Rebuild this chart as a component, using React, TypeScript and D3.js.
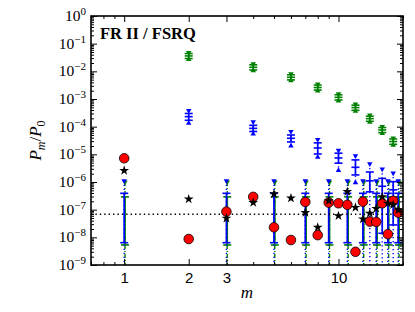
import React, { useEffect, useRef } from 'react'
import * as d3 from 'd3'

// harmonic number m
const mAll = [1, 2, 3, 4, 5, 6, 7, 8, 9, 10, 11, 12, 13, 14, 15, 16, 17, 18, 19]
const mEven = [2, 4, 6, 8, 10, 12, 14, 16, 18]
const mOdd = [1, 3, 5, 7, 9, 11, 13, 15, 17, 19]

// red circles and black stars (one per m)
const redVals = [7.2e-6, 8.7e-9, 8.5e-8, 2.9e-7, 2.3e-8, 8e-9, 1.9e-7, 1.2e-8, 1.8e-7, 1.7e-7,
  1.5e-7, 3e-9, 1.95e-7, 3.7e-8, 3.6e-8, 1.7e-7, 1.3e-8, 2.1e-7, 7.8e-8]
const starVals = [2.6e-6, 2.4e-7, 4.9e-8, 1.8e-7, 3.7e-7, 2.6e-7, 7.8e-8, 2.3e-8, 2.1e-7, 6e-8,
  4.5e-7, 1.2e-7, 4.6e-8, 7.4e-8, 1.1e-7, 2.9e-7, 1.7e-7, 1.5e-7, 9.8e-8]

// green points at even m
const greenVals = [3.6e-2, 1.4e-2, 6.1e-3, 2.6e-3, 1.15e-3, 4.9e-4, 1.95e-4, 7.6e-5, 2.9e-5]
const greenLo1 = [2.9e-2, 1.12e-2, 4.9e-3, 2.1e-3, 9.2e-4, 3.9e-4, 1.56e-4, 6.1e-5, 2.3e-5]
const greenHi1 = [4.4e-2, 1.72e-2, 7.5e-3, 3.2e-3, 1.42e-3, 6.0e-4, 2.4e-4, 9.3e-5, 3.6e-5]
const greenLo2 = [2.7e-2, 1.05e-2, 4.6e-3, 1.95e-3, 8.6e-4, 3.65e-4, 1.46e-4, 5.7e-5, 2.15e-5]
const greenHi2 = [4.8e-2, 1.86e-2, 8.1e-3, 3.45e-3, 1.53e-3, 6.5e-4, 2.6e-4, 1.0e-4, 3.9e-5]

// blue points at even m
const blueVals = [2.3e-4, 8.7e-5, 3.8e-5, 1.7e-5, 7.4e-6, 3.4e-6, 1.1e-6, 7e-7, 5.2e-7]
const blueLo1 = [1.7e-4, 6.7e-5, 2.8e-5, 1.03e-5, 4.8e-6, 1.8e-6, 4.4e-7, 1.4e-8, 2.8e-8]
const blueHi1 = [3.0e-4, 1.12e-4, 5.0e-5, 2.6e-5, 1.1e-5, 6.3e-6, 2.3e-6, 1.35e-6, 1.03e-6]
const blueLo2 = [1.35e-4, 5.5e-5, 2.0e-5, 7.9e-6, 2.6e-6, 9.5e-7, 0, 0, 0]
const blueHi2 = [3.8e-4, 1.48e-4, 6.6e-5, 3.4e-5, 1.4e-5, 8.8e-6, 4.5e-6, 2.9e-6, 2.1e-6]

// noise ranges at odd m
const noiseGreenLo1 = [5.3e-9, 5.3e-9, 5.3e-9, 5.3e-9, 5.3e-9, 5.3e-9, 5.3e-9, 5.3e-9, 5.3e-9, 5.3e-9]
const noiseGreenHi1 = [2.9e-7, 2.9e-7, 2.9e-7, 2.9e-7, 2.9e-7, 2.9e-7, 2.9e-7, 2.9e-7, 2.9e-7, 2.9e-7]
const noiseGreenHi2 = [1.0e-6, 1.0e-6, 1.0e-6, 1.0e-6, 1.0e-6, 1.0e-6, 1.0e-6, 1.0e-6, 1.0e-6, 1.0e-6]
const noiseBlueLo1 = [6.4e-9, 6.4e-9, 6.4e-9, 6.4e-9, 6.4e-9, 6.4e-9, 6.4e-9, 6.4e-9, 6.4e-9, 6.4e-9]
const noiseBlueHi1 = [3.9e-7, 3.9e-7, 3.9e-7, 3.9e-7, 3.9e-7, 3.9e-7, 3.9e-7, 3.9e-7, 3.9e-7, 3.9e-7]
const noiseBlueHi2 = [1.1e-6, 1.1e-6, 1.1e-6, 1.1e-6, 1.1e-6, 1.1e-6, 1.1e-6, 1.1e-6, 1.1e-6, 1.1e-6]

const refLevel = 6.8e-8

const xTickLabels = [1, 2, 3, 10]
const xMinor = [0.7, 0.8, 0.9, 4, 5, 6, 7, 8, 9, 20]
const yExponents = [0, -1, -2, -3, -4, -5, -6, -7, -8, -9]

const W = 415
const H = 312
const left = 91
const right = 403
const top = 16
const bottom = 265

const GREEN = '#008000'
const BLUE = '#0000ff'

// one set of error bars: dotted outer range with triangles, solid inner range with caps
function drawBars(g, y, xpos, vals, lo1, hi1, lo2, hi2, color, dash, dx) {
  const x = (i) => xpos(i) + dx
  const grp = g.append('g')
  const ybot = bottom + 5
  const idx = hi2.map((h, i) => i)

  grp.selectAll('line.outer')
    .data(idx)
    .enter()
    .append('line')
    .attr('x1', (i) => x(i))
    .attr('x2', (i) => x(i))
    .attr('y1', (i) => y(hi2[i]))
    .attr('y2', (i) => (lo2 && lo2[i] > 0 ? y(lo2[i]) : ybot))
    .attr('stroke', color)
    .attr('stroke-width', 1.4)
    .attr('stroke-dasharray', dash)

  grp.selectAll('line.inner')
    .data(idx)
    .enter()
    .append('line')
    .attr('x1', (i) => x(i))
    .attr('x2', (i) => x(i))
    .attr('y1', (i) => y(hi1[i]))
    .attr('y2', (i) => y(lo1[i]))
    .attr('stroke', color)
    .attr('stroke-width', 1.7)

  const caps = []
  idx.forEach((i) => {
    caps.push([i, hi1[i]])
    caps.push([i, lo1[i]])
    if (vals) caps.push([i, vals[i]])
  })
  grp.selectAll('line.cap')
    .data(caps)
    .enter()
    .append('line')
    .attr('x1', (d) => x(d[0]) - 4)
    .attr('x2', (d) => x(d[0]) + 4)
    .attr('y1', (d) => y(d[1]))
    .attr('y2', (d) => y(d[1]))
    .attr('stroke', color)
    .attr('stroke-width', 1.6)

  const tri = d3.symbol(d3.symbolTriangle, 13)
  grp.selectAll('path.tdown')
    .data(idx)
    .enter()
    .append('path')
    .attr('d', tri)
    .attr('fill', color)
    .attr('transform', (i) => `translate(${x(i)},${y(hi2[i])}) rotate(180)`)
  if (lo2) {
    grp.selectAll('path.tup')
      .data(idx.filter((i) => lo2[i] > 0))
      .enter()
      .append('path')
      .attr('d', tri)
      .attr('fill', color)
      .attr('transform', (i) => `translate(${x(i)},${y(lo2[i])})`)
  }
}

const App = () => {
  const ref = useRef(null)

  useEffect(() => {
    const svg = d3.select(ref.current)
    svg.selectAll('*').remove()

    const x = d3.scaleLog().domain([0.7, 20]).range([left, right])
    const y = d3.scaleLog().domain([1e-9, 1]).range([bottom, top])

    svg.append('defs').append('clipPath').attr('id', 'plotclip')
      .append('rect')
      .attr('x', left).attr('y', top)
      .attr('width', right - left).attr('height', bottom - top)

    const g = svg.append('g').attr('clip-path', 'url(#plotclip)')

    const xOdd = (i) => x(mOdd[i])
    const xEven = (i) => x(mEven[i])

    drawBars(g, y, xOdd, null, noiseGreenLo1, noiseGreenHi1, null, noiseGreenHi2, GREEN, '4,2,1,2', 0.8)
    drawBars(g, y, xOdd, null, noiseBlueLo1, noiseBlueHi1, null, noiseBlueHi2, BLUE, '1.2,2.8', 0)
    drawBars(g, y, xEven, greenVals, greenLo1, greenHi1, greenLo2, greenHi2, GREEN, '4,2,1,2', 0)
    drawBars(g, y, xEven, blueVals, blueLo1, blueHi1, blueLo2, blueHi2, BLUE, '1.2,2.8', 0)

    // reference level
    g.append('line')
      .attr('x1', left).attr('x2', right)
      .attr('y1', y(refLevel)).attr('y2', y(refLevel))
      .attr('stroke', '#000')
      .attr('stroke-width', 1.4)
      .attr('stroke-dasharray', '1.4,3')

    g.selectAll('circle.red')
      .data(redVals)
      .enter()
      .append('circle')
      .attr('cx', (d, i) => x(mAll[i]))
      .attr('cy', (d) => y(d))
      .attr('r', 4.8)
      .attr('fill', '#ff0000')
      .attr('stroke', '#000')
      .attr('stroke-width', 0.8)

    const star = d3.symbol(d3.symbolStar, 30)
    g.selectAll('path.star')
      .data(starVals)
      .enter()
      .append('path')
      .attr('d', star)
      .attr('fill', '#000')
      .attr('transform', (d, i) => `translate(${x(mAll[i])},${y(d)})`)

    // ticks on all four sides, pointing in
    const yMinor = []
    yExponents.forEach((e) => {
      if (e < 0) for (let k = 2; k <= 9; k++) yMinor.push(k * Math.pow(10, e))
    })
    const yMajor = yExponents.map((e) => Math.pow(10, e))
    const xMajor = xTickLabels

    const axisG = svg.append('g')
    const noLab = () => ''
    const addAxis = (axis, tr) => {
      const a = axisG.append('g').attr('transform', tr).call(axis)
      a.select('.domain').remove()
      a.selectAll('line').attr('stroke', '#000').attr('stroke-width', 1)
      return a
    }
    addAxis(d3.axisLeft(y).tickValues(yMajor).tickSizeInner(-6).tickSizeOuter(0).tickFormat(noLab), `translate(${left},0)`)
    addAxis(d3.axisLeft(y).tickValues(yMinor).tickSizeInner(-3).tickSizeOuter(0).tickFormat(noLab), `translate(${left},0)`)
    addAxis(d3.axisRight(y).tickValues(yMajor).tickSizeInner(-6).tickSizeOuter(0).tickFormat(noLab), `translate(${right},0)`)
    addAxis(d3.axisRight(y).tickValues(yMinor).tickSizeInner(-3).tickSizeOuter(0).tickFormat(noLab), `translate(${right},0)`)
    addAxis(d3.axisTop(x).tickValues(xMajor).tickSizeInner(-6).tickSizeOuter(0).tickFormat(noLab), `translate(0,${top})`)
    addAxis(d3.axisTop(x).tickValues(xMinor).tickSizeInner(-3).tickSizeOuter(0).tickFormat(noLab), `translate(0,${top})`)
    addAxis(d3.axisBottom(x).tickValues(xMinor).tickSizeInner(-3).tickSizeOuter(0).tickFormat(noLab), `translate(0,${bottom})`)
    const bx = addAxis(d3.axisBottom(x).tickValues(xMajor).tickSizeInner(-6).tickSizeOuter(0).tickPadding(7.5).tickFormat(d3.format('d')), `translate(0,${bottom})`)
    bx.selectAll('text')
      .attr('font-family', '"Liberation Sans", Arial, sans-serif')
      .attr('font-size', 15)
      .attr('fill', '#000')

    // frame
    svg.append('rect')
      .attr('x', left).attr('y', top)
      .attr('width', right - left).attr('height', bottom - top)
      .attr('fill', 'none')
      .attr('stroke', '#000')
      .attr('stroke-width', 1.6)

    // y tick labels 10^n
    const yl = svg.append('g')
      .attr('font-family', '"Liberation Serif", "Times New Roman", serif')
      .attr('fill', '#000')
    yExponents.forEach((e) => {
      const t = yl.append('text')
        .attr('x', 86)
        .attr('y', y(Math.pow(10, e)) + 5)
        .attr('text-anchor', 'end')
        .attr('font-size', 15.5)
      t.append('tspan').text('10')
      t.append('tspan')
        .attr('dy', -6)
        .attr('font-size', 11)
        .text(e === 0 ? '0' : '\u2212' + Math.abs(e))
    })

    // axis titles
    svg.append('text')
      .attr('x', (left + right) / 2)
      .attr('y', 298)
      .attr('text-anchor', 'middle')
      .attr('font-family', '"Liberation Serif", serif')
      .attr('font-style', 'italic')
      .attr('font-size', 17)
      .text('m')

    const yt = svg.append('text')
      .attr('transform', `translate(41,${(top + bottom) / 2}) rotate(-90)`)
      .attr('text-anchor', 'middle')
      .attr('font-family', '"Liberation Serif", serif')
      .attr('font-size', 17)
    yt.append('tspan').attr('font-style', 'italic').text('P')
    yt.append('tspan').attr('font-style', 'italic').attr('font-size', 12).attr('dy', 4).text('m')
    yt.append('tspan').attr('dy', -4).text('/')
    yt.append('tspan').attr('font-style', 'italic').text('P')
    yt.append('tspan').attr('font-size', 12).attr('dy', 4).text('0')

    svg.append('text')
      .attr('x', 100)
      .attr('y', 39)
      .attr('font-family', '"Liberation Serif", serif')
      .attr('font-weight', 'bold')
      .attr('font-size', 16.5)
      .text('FR II / FSRQ')
  }, [])

  return <svg ref={ref} width={W} height={H} style={{ position: 'absolute', left: 0, top: 0, background: '#fff' }} />
}

export default App
